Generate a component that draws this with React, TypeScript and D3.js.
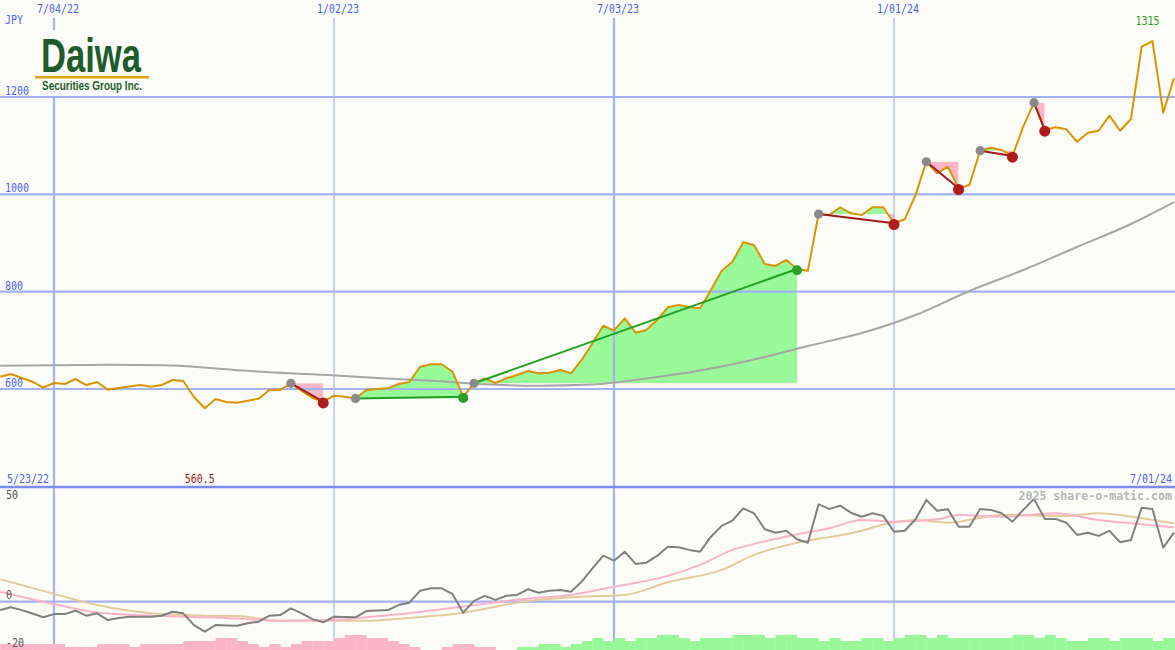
import React from "react";
import * as d3 from "d3";

const W = 1175;
const H = 650;

// weekly closes starting 5/30/22
const START = new Date(2022, 4, 30);
const price = [
  625.3, 630.8, 622.6, 615, 602.7, 612.3, 610.3, 620.5, 608.2, 614.4,
  598.6, 602, 605.1, 608.2, 604.7, 608.2, 618.5, 616.4, 583.6, 560.5,
  579.5, 573.3, 571.9, 576, 580.1, 597.9, 597.9, 611.7, 595.9, 581.5,
  573.9, 586.3, 584.3, 580.6, 597.9, 600, 601.4, 610.3, 614.4, 645.8,
  650.8, 650.8, 635.5, 584.2, 611.7, 622, 612.3, 622, 628.8, 637,
  632.3, 633.5, 639, 632.3, 659.6, 693.9, 730, 719.8, 745.3, 715.7,
  721.2, 741.8, 767.9, 772.6, 767.9, 765.8, 803.4, 843.1, 861.6, 901.4,
  895.9, 856.9, 852.8, 865.1, 846.6, 843.1, 959.6, 957.5, 973.4, 961,
  957.5, 973.4, 973.4, 940.5, 948.7, 998.6, 1067, 1043.2, 1056.8, 1012.4,
  1019.2, 1089.7, 1095.8, 1091.1, 1078.7, 1139, 1188.3, 1132.2, 1137.7, 1133.6,
  1108.1, 1126.6, 1130.7, 1161.6, 1130.7, 1154.8, 1303.4, 1315, 1167.7, 1238.4,
];

// long moving average (week index, value)
const maIdx = [0, 5, 10, 15, 17, 20, 25, 30, 35, 40, 45, 50, 55, 60, 65, 70, 75, 80, 85, 90, 95, 100, 105, 109];
const maVal = [647.9, 648.7, 650, 648.7, 647.3, 642, 634.3, 629.2, 622.6, 617, 609.7, 606.8, 609.2, 621.6, 638, 660.6, 688.4, 715, 752, 801.4, 844.5, 891.8, 939, 984];

// trades: [entry week, exit week]
const tradeEntry = [27, 33, 44, 76, 86, 91, 96];
const tradeExit = [30, 43, 74, 83, 89, 94, 97];

// lower panel oscillator
const osc = [
  -4.2, -2.8, -4.2, -5.9, -7.8, -6.2, -6.2, -4.5, -7, -5.8,
  -9.2, -8.2, -7.5, -7.5, -7.5, -7, -5, -5.8, -11.7, -15,
  -11.7, -11.9, -12, -10.8, -10, -7, -6.7, -3.3, -5.8, -8.7,
  -10.3, -7.5, -7.7, -7.8, -4.7, -4.4, -4.2, -1.7, -0.5, 5.5,
  6.7, 6.7, 3.9, -5.5, 0.4, 2.9, 0.9, 3, 3.4, 6.2,
  4.5, 5.5, 5.9, 5, 10, 16.7, 23, 20.5, 25, 18.9,
  19.5, 22.9, 27.5, 27.2, 25.9, 25, 32.5, 37.9, 40.5, 46.7,
  44.2, 36.2, 34.5, 35.5, 31.2, 29.5, 48.7, 46.4, 48, 44.5,
  42.5, 44.2, 42.9, 35, 35.5, 41.2, 50.9, 45.5, 46.2, 37.5,
  37.5, 46.4, 45.9, 44.2, 40, 45.9, 51.4, 41.4, 41.4, 39.5,
  33.4, 34.5, 32.9, 35.4, 29.7, 30.9, 47, 46.4, 27, 34.5,
];

const pinkIdx = [0, 5, 9, 15, 22, 26, 31, 34, 37, 43, 49, 53, 57, 62, 65, 68, 70, 72, 74, 77, 80, 83, 87, 89, 93, 98, 102, 105, 109];
const pinkVal = [5, -1.2, -5.4, -7.2, -8.4, -9.5, -9.2, -7.8, -6.3, -2.4, 1.6, 3.4, 7.5, 12.9, 18.4, 25.9, 28.9, 31.4, 33.7, 36.7, 40.9, 40, 41.2, 43.4, 42.5, 44.2, 40.9, 39.2, 37.2];

const tanIdx = [0, 5, 9, 14, 19, 22, 26, 31, 34, 37, 43, 49, 54, 58, 62, 67, 70, 74, 79, 83, 85, 88, 93, 99, 102, 105, 109];
const tanVal = [11.2, 3.9, -1.7, -5.8, -7, -7.2, -9.5, -9.5, -9.5, -8.5, -5.5, 0.4, 2.5, 3.4, 9.7, 15.9, 23.4, 29.5, 34.2, 39.7, 40.9, 39.5, 43.4, 42.9, 44.2, 42.5, 39.2];

const hist = [
  -2, -2, -2, -2, -2, -2, -1, -1, -1, -2, -2, -2, -1, -2, -2, -2, -2, -3, -3, -3,
  -4, -4, -3, -2, -1, -2, -1, -2, -3, -3, -3, -4, -5, -5, -4, -4, -3, -2, -1, 0,
  0, -1, -2, -2, -1, -1, 0, 0, 1, 1, 2, 2, 1, 2, 3, 4, 3, 4, 3, 4,
  4, 5, 5, 4, 3, 4, 4, 4, 5, 5, 5, 4, 5, 5, 4, 4, 3, 4, 3, 3,
  4, 4, 3, 4, 5, 5, 4, 5, 4, 4, 4, 4, 4, 4, 5, 5, 4, 5, 4, 3,
  3, 4, 4, 3, 4, 4, 4, 3, 4, 4,
];

const tickLabels = ["7/04/22", "1/02/23", "7/03/23", "1/01/24"];
const tickDates = [new Date(2022, 6, 4), new Date(2023, 0, 2), new Date(2023, 6, 3), new Date(2024, 0, 1)];
const yTicks = [600, 800, 1000, 1200];
const lowTicks = [50, 0, -20];
const startLabel = "5/23/22";
const endLabel = "7/01/24";
const maxLabel = "1315";
const minLabel = "560.5";
const currency = "JPY";
const credit = "2025 share-o-matic.com";

const BG = "#fcfdf9";
const BLUE_TXT = "#4c62f0";
const GRID = "#a3b2f2";

const MONO = "'DejaVu Sans Mono', monospace";

function T(props: {
  x: number; y: number; fill: string; children: React.ReactNode;
  anchor?: string; size?: number; bold?: boolean; sx?: number;
}) {
  const { x, y, fill, children, anchor = "start", size = 11.4, bold = false, sx = 0.875 } = props;
  return (
    <text
      transform={`translate(${x},${y}) scale(${sx},1)`}
      textAnchor={anchor as any}
      fill={fill}
      fontFamily={MONO}
      fontSize={size}
      fontWeight={bold ? "bold" : "normal"}
    >
      {children}
    </text>
  );
}

export default function App() {
  const x = d3.scaleTime().domain([tickDates[0], tickDates[3]]).range([54, 894]);
  const dateAt = (i: number) => new Date(START.getFullYear(), START.getMonth(), START.getDate() + 7 * i);
  const xi = (i: number) => x(dateAt(i));
  const y = d3.scaleLinear().domain([600, 1200]).range([389, 97]);
  const yl = d3.scaleLinear().domain([0, 50]).range([601.7, 501.7]);
  const yh = d3.scaleLinear().domain([0, 5]).range([650, 635]);

  const priceLine = d3.line<number>().x((_, i) => xi(i)).y((v) => y(v))(price) || "";
  const maLine =
    d3.line<number>().x((_, k) => xi(maIdx[k])).y((v) => y(v)).curve(d3.curveMonotoneX)(maVal) || "";
  const oscLine = d3.line<number>().x((_, i) => xi(i)).y((v) => yl(v))(osc) || "";
  const pinkLine =
    d3.line<number>().x((_, k) => xi(pinkIdx[k])).y((v) => yl(v)).curve(d3.curveMonotoneX)(pinkVal) || "";
  const tanLine =
    d3.line<number>().x((_, k) => xi(tanIdx[k])).y((v) => yl(v)).curve(d3.curveMonotoneX)(tanVal) || "";

  const trades = tradeEntry.map((e, k) => {
    const ex = tradeExit[k];
    const ep = price[e];
    const xp = price[ex];
    const idx = d3.range(e, ex + 1);
    const area =
      d3
        .area<number>()
        .x((i) => xi(i))
        .y0(y(ep))
        .y1((i) => y(price[i]))(idx) || "";
    return { e, ex, ep, xp, area, gain: xp > ep, x0: xi(e), x1: xi(ex), ye: y(ep) };
  });

  const minI = price.indexOf(d3.min(price)!);
  const maxI = price.indexOf(d3.max(price)!);

  return (
    <svg
      width={W}
      height={H}
      style={{ position: "absolute", left: 0, top: 0, display: "block" }}
      xmlns="http://www.w3.org/2000/svg"
    >
      <defs>
        {trades.map((t, k) => (
          <React.Fragment key={k}>
            <clipPath id={`ab${k}`}>
              <rect x={t.x0} y={0} width={t.x1 - t.x0} height={t.ye} />
            </clipPath>
            <clipPath id={`be${k}`}>
              <rect x={t.x0} y={t.ye} width={t.x1 - t.x0} height={487 - t.ye} />
            </clipPath>
          </React.Fragment>
        ))}
      </defs>
      <rect x={0} y={0} width={W} height={H} fill={BG} />

      {/* trade fills */}
      {trades.map((t, k) => (
        <g key={`f${k}`}>
          <path d={t.area} fill="#98fa98" clipPath={`url(#ab${k})`} />
          <path d={t.area} fill="#fdb6c8" clipPath={`url(#be${k})`} />
        </g>
      ))}

      {/* vertical grid */}
      {tickDates.map((d, k) => (
        <g key={`v${k}`}>
          <line
            x1={x(d)} x2={x(d)} y1={18} y2={486}
            stroke={GRID} strokeWidth={k % 2 === 0 ? 2.2 : 1.2}
          />
          <line
            x1={x(d)} x2={x(d)} y1={488} y2={650}
            stroke={GRID} strokeWidth={k % 2 === 0 ? 2.2 : 1.2}
          />
        </g>
      ))}

      {/* horizontal grid main */}
      {yTicks.map((v) => (
        <line key={`h${v}`} x1={0} x2={W} y1={y(v)} y2={y(v)} stroke={GRID} strokeWidth={2.2} />
      ))}
      {/* lower zero line */}
      <line x1={0} x2={W} y1={yl(0)} y2={yl(0)} stroke={GRID} strokeWidth={2.2} />
      {/* panel divider */}
      <line x1={0} x2={W} y1={487} y2={487} stroke="#7a8cf0" strokeWidth={2.6} />

      {/* main lines */}
      <path d={maLine} fill="none" stroke="#a6a6a6" strokeWidth={2} />
      <path d={priceLine} fill="none" stroke="#d99400" strokeWidth={2} strokeLinejoin="round" />

      {/* trade lines & markers */}
      {trades.map((t, k) => (
        <line
          key={`tl${k}`}
          x1={t.x0} y1={y(t.ep)} x2={t.x1} y2={y(t.xp)}
          stroke={t.gain ? "#22a022" : "#a01c1c"} strokeWidth={2}
        />
      ))}
      {trades.map((t, k) => (
        <g key={`tc${k}`}>
          <circle cx={t.x0} cy={y(t.ep)} r={4.6} fill="#8a8a8a" />
          <circle cx={t.x1} cy={y(t.xp) + 1.2} r={t.gain ? 5 : 5.5} fill={t.gain ? "#2aa02a" : "#b01c1c"} />
        </g>
      ))}

      {/* lower panel */}
      {hist.map((h, i) =>
        h === 0 ? null : (
          <rect
            key={`hb${i}`}
            x={xi(i)}
            y={yh(Math.abs(h))}
            width={xi(i + 1) - xi(i) + 0.3}
            height={650 - yh(Math.abs(h))}
            fill={h < 0 ? "#fbb5c9" : "#98f898"}
          />
        )
      )}
      <path d={tanLine} fill="none" stroke="#e3cb9c" strokeWidth={2} />
      <path d={pinkLine} fill="none" stroke="#f9b4c8" strokeWidth={2} />
      <path d={oscLine} fill="none" stroke="#808080" strokeWidth={2} strokeLinejoin="round" />

      {/* texts */}
      {tickDates.map((d, k) => (
        <T key={`tt${k}`} x={x(d) + 4} y={13} fill={BLUE_TXT} anchor="middle">
          {tickLabels[k]}
        </T>
      ))}
      <T x={5} y={24} fill={BLUE_TXT}>{currency}</T>
      {yTicks.map((v) => (
        <T key={`yt${v}`} x={5} y={y(v) - 2} fill={BLUE_TXT}>{String(v)}</T>
      ))}
      <T x={xi(maxI) - 17} y={25} fill="#22a022">{maxLabel}</T>
      <T x={xi(minI) - 20} y={483} fill="#a01c1c">{minLabel}</T>
      <T x={7} y={483} fill={BLUE_TXT}>{startLabel}</T>
      <T x={1172} y={483} fill={BLUE_TXT} anchor="end">{endLabel}</T>
      <T x={1172} y={500} fill="#b6b6b6" anchor="end" bold size={11.6} sx={1}>{credit}</T>
      {lowTicks.map((v) => (
        <T key={`lt${v}`} x={6} y={v < 0 ? 647 : yl(v) - 2.5} fill="#555555">{String(v)}</T>
      ))}

      {/* logo */}
      <rect x={33} y={30} width={119} height={66} fill={BG} />
      <text
        x={41}
        y={72}
        fill="#1e5c2c"
        fontFamily="'Liberation Sans Narrow', 'Liberation Sans', Arial, sans-serif"
        fontWeight="bold"
        fontSize={48}
        textLength={100}
        lengthAdjust="spacingAndGlyphs"
      >
        Daiwa
      </text>
      <rect x={35} y={76} width={114} height={2.5} fill="#e0a010" />
      <text
        x={42}
        y={89.5}
        fill="#1e5c2c"
        fontFamily="'Liberation Sans Narrow', 'Liberation Sans', Arial, sans-serif"
        fontWeight="bold"
        fontSize={12.8}
        textLength={100}
        lengthAdjust="spacingAndGlyphs"
      >
        Securities Group Inc.
      </text>
    </svg>
  );
}
